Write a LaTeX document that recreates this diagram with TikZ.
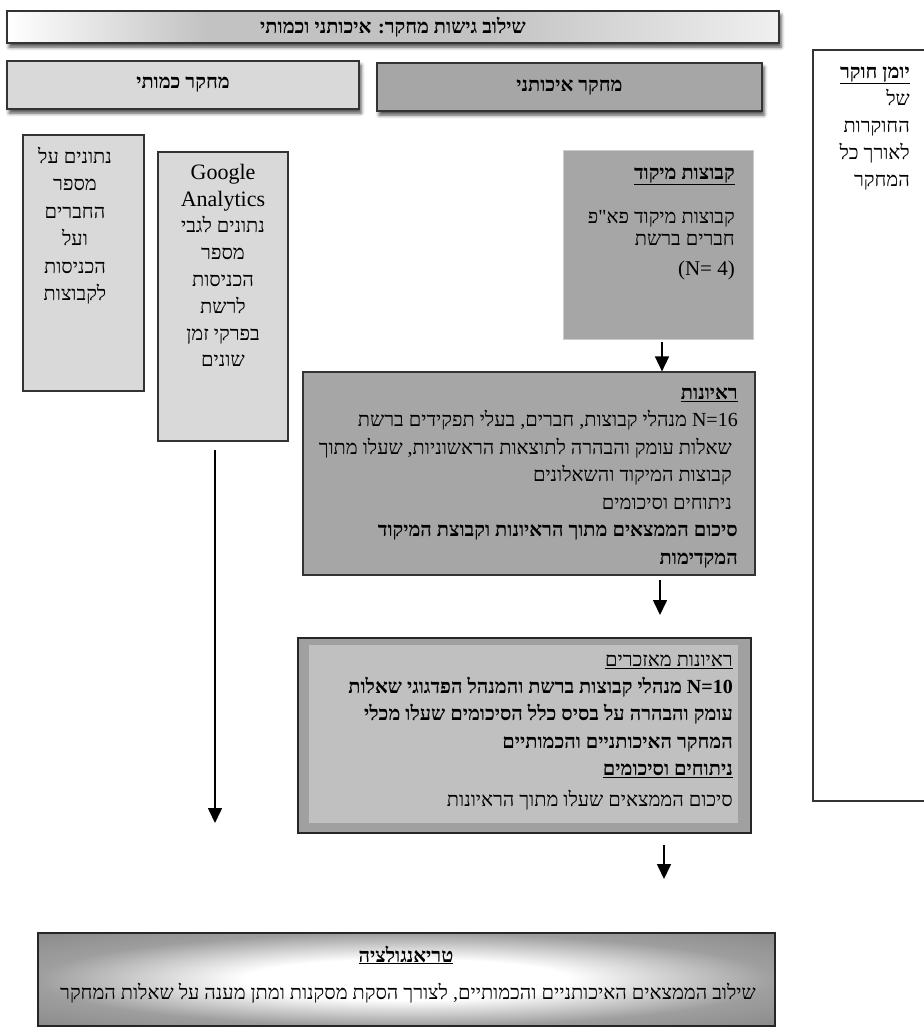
\documentclass[tikz,border=0pt]{standalone}
\usepackage{fontspec}
\newfontfamily\heb{Liberation Serif}[Script=Hebrew]
\newfontfamily\lat{Liberation Serif}
\TeXXeTstate=1
\usetikzlibrary{arrows.meta,shadows.blur,calc}
\definecolor{lightbox}{HTML}{D9D9D9}
\definecolor{midbox}{HTML}{A6A6A6}
\definecolor{expertout}{HTML}{A0A0A0}
\definecolor{expertin}{HTML}{C0C0C0}
\definecolor{edge}{HTML}{333333}
\newcommand\RL[1]{\beginR #1\endR}
\newcommand\LR[1]{\beginL{\lat #1}\endL{}}
\newcommand\ulR[1]{\underline{\beginR #1\endR}}
\newcommand\fst{\rule{0pt}{17pt}}
\pgfdeclarehorizontalshading{titleshade}{100bp}{color(0bp)=(white);color(25bp)=(white);color(38bp)=(black!24);color(56bp)=(black!24);color(75bp)=(black!6);color(100bp)=(black!6)}
\pgfdeclareradialshading{trishade}{\pgfpoint{0bp}{0bp}}{color(0bp)=(white);color(11bp)=(white);color(25bp)=(black!38);color(36bp)=(black!46);color(50bp)=(black!46)}
\begin{document}
\begin{tikzpicture}[x=1pt,y=-1pt,
  box/.style={draw=edge,line width=1.2pt,inner sep=0pt},
  hdr/.style={box,blur shadow={shadow xshift=2pt,shadow yshift=-4pt,shadow blur radius=3.5pt,shadow opacity=70},font=\heb\fontsize{20}{27}\selectfont\bfseries},
  txt/.style={inner sep=0pt,font=\heb\fontsize{20}{27}\selectfont},
  arr/.style={line width=1.6pt,-{Triangle[width=14pt,length=15pt]}}]
\useasboundingbox (0,0) rectangle (924,1029);

% header boxes
\node[hdr,shading=titleshade,minimum width=772pt,minimum height=32pt] (title) at (393,27) {\RL{שילוב גישות מחקר: איכותני וכמותי}};
\node[hdr,fill=lightbox,minimum width=352pt,minimum height=48pt] (quant) at (183,85) {\RL{מחקר כמותי}};
\node[hdr,fill=midbox,minimum width=385pt,minimum height=48pt] (qual) at (569.5,87) {\RL{מחקר איכותני}};

% researcher diary (runs off the right edge)
\node[box,fill=white,minimum width=122pt,minimum height=751pt] (diary) at (874,425.5) {};
\node[txt,anchor=north east,align=right] (diarytxt) at (910,61)
  {\fst\ulR{\textbf{יומן חוקר}}\\ \RL{של}\\ \RL{החוקרות}\\ \RL{לאורך כל}\\ \RL{המחקר}};

% quantitative boxes
\node[box,fill=lightbox,minimum width=121pt,minimum height=256pt] (members) at (83.5,263) {};
\node[txt,anchor=north,align=center,font=\heb\fontsize{20}{27.5}\selectfont] (memberstxt) at (75,146)
  {\fst\RL{נתונים על}\\ \RL{מספר}\\ \RL{החברים}\\ \RL{ועל}\\ \RL{הכניסות}\\ \RL{לקבוצות}};
\node[box,fill=lightbox,minimum width=130pt,minimum height=289pt] (google) at (223,296.5) {};
\node[txt,anchor=north,align=center,font=\heb\fontsize{20}{26.8}\selectfont] (googletxt) at (223,162)
  {\fst{\lat\fontsize{22}{26.8}\selectfont Google}\\ {\lat\fontsize{22}{26.8}\selectfont Analytics}\\ \RL{נתונים לגבי}\\ \RL{מספר}\\ \RL{הכניסות}\\ \RL{לרשת}\\ \RL{בפרקי זמן}\\ \RL{שונים}};

% focus groups
\node[draw=black!20,line width=0.6pt,fill=midbox,inner sep=0pt,minimum width=190pt,minimum height=189pt] (focus) at (658,244.5) {};
\node[txt,anchor=north east,align=right,font=\heb\fontsize{20}{22}\selectfont] (focustxt) at (735,162)
  {\fst\ulR{\textbf{קבוצות מיקוד}}\\[22pt] \RL{קבוצות מיקוד פא"פ}\\ \RL{חברים ברשת}\\[8pt] \RL{\LR{\fontsize{21}{22}\selectfont(N= 4)}}};

% interviews
\node[box,fill=midbox,minimum width=452pt,minimum height=203pt] (interviews) at (529,473.5) {};
\node[txt,anchor=north east,align=right,font=\heb\fontsize{20}{27.5}\selectfont] (interviewstxt) at (738,382)
  {\fst\ulR{\textbf{ראיונות}}\\
   \RL{\LR{N=16} מנהלי קבוצות, חברים, בעלי תפקידים ברשת}\\
   \RL{\hbox to 6pt{}שאלות עומק והבהרה לתוצאות הראשוניות, שעלו מתוך}\\
   \RL{\hbox to 6pt{}קבוצות המיקוד והשאלונים}\\
   \RL{\hbox to 6pt{}ניתוחים וסיכומים}\\
   \RL{\textbf{סיכום הממצאים מתוך הראיונות וקבוצת המיקוד}}\\
   \RL{\textbf{המקדימות}}};

% expert interviews
\node[box,draw=black!85,fill=expertout,minimum width=453pt,minimum height=195pt] (expert) at (524.5,735.5) {};
\node[fill=expertin,inner sep=0pt,minimum width=429pt,minimum height=178pt] (expertin) at (523.5,734) {};
\node[txt,anchor=north east,align=right,font=\heb\fontsize{20}{27.3}\selectfont] (experttxt) at (733,649)
  {\fst\ulR{ראיונות מאזכרים}\\
   \RL{\textbf{\LR{\bfseries N=10} מנהלי קבוצות ברשת והמנהל הפדגוגי שאלות}}\\
   \RL{\textbf{עומק והבהרה על בסיס כלל הסיכומים שעלו מכלי}}\\
   \RL{\textbf{המחקר האיכותניים והכמותיים}}\\
   \ulR{\textbf{ניתוחים וסיכומים}}\\[4pt]
   \RL{סיכום הממצאים שעלו מתוך הראיונות}};

% triangulation
\node[draw=black!85,line width=1.5pt,shading=trishade,inner sep=0pt,minimum width=737pt,minimum height=93pt] (tri) at (406.5,979.5) {};
\node[txt,anchor=base] (trititle) at (406,962) {\ulR{\textbf{טריאנגולציה}}};
\node[txt,anchor=base] (tritxt) at (408,999) {\RL{שילוב הממצאים האיכותניים והכמותיים, לצורך הסקת מסקנות ומתן מענה על שאלות המחקר}};

% arrows
\coordinate (a1) at (662,342);
\draw[arr] (a1) -- (a1 |- interviews.north);
\coordinate (a2s) at (660,580);
\coordinate (a2e) at (660,615);
\draw[arr] (a2s) -- (a2e);
\coordinate (a3s) at (664,845);
\coordinate (a3e) at (664,879);
\draw[arr] (a3s) -- (a3e);
\coordinate (a4s) at (215,450);
\coordinate (a4e) at (215,823);
\draw[arr] (a4s) -- (a4e);
\end{tikzpicture}
\end{document}
